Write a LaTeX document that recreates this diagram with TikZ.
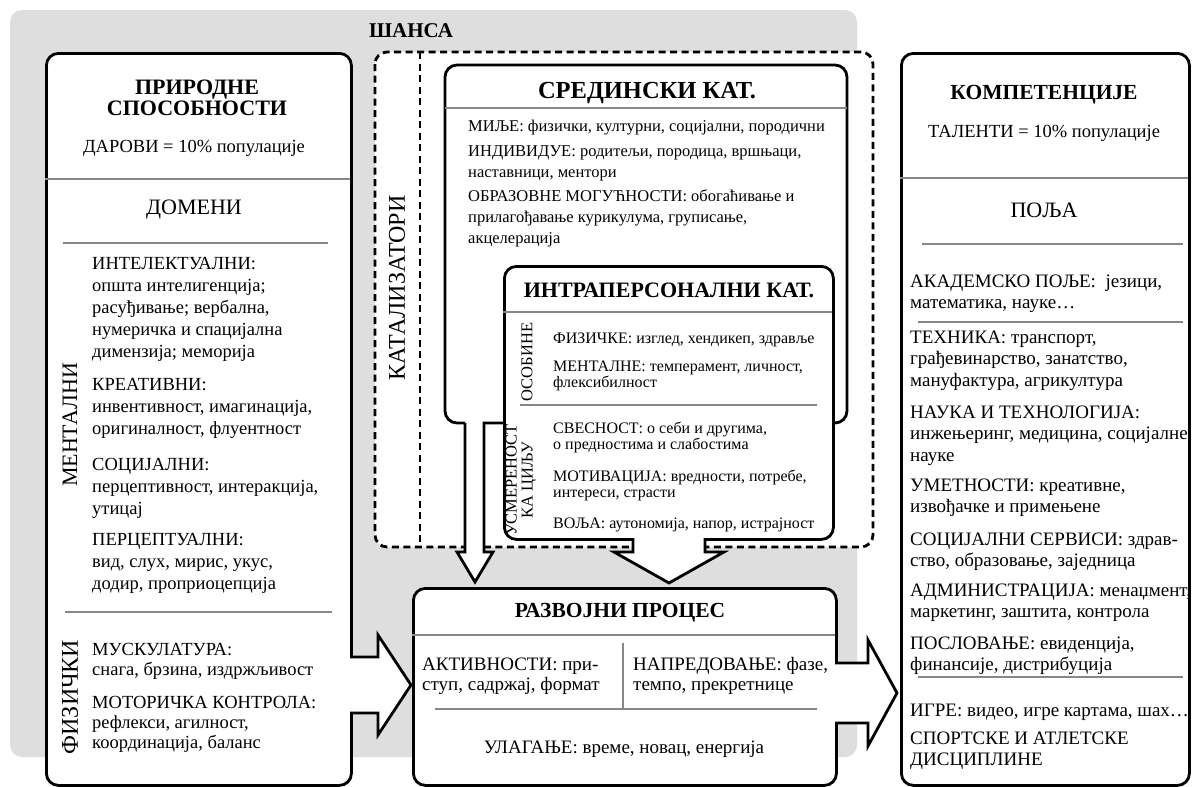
\documentclass[tikz,border=0pt]{standalone}
\usepackage{fontspec}
\setmainfont{Liberation Serif}
\begin{document}
\begin{tikzpicture}[x=1pt,y=-1pt]
\definecolor{bggray}{RGB}{222,222,222}
\definecolor{sepgray}{RGB}{135,135,135}
\tikzset{
  frame/.style={draw=black, line width=2.8pt, fill=white, rounded corners=12pt, inner sep=0pt},
  edge/.style={draw=black, line width=2.8pt, line join=miter},
  sep/.style={draw=sepgray, line width=1.3pt},
  dashline/.style={draw=black, line width=2.8pt, dash pattern=on 7pt off 4.5pt},
  body/.style={anchor=base west, inner sep=0pt, align=left, font=\fontsize{18.5}{22}\selectfont},
  bodyS/.style={anchor=base west, inner sep=0pt, align=left, font=\fontsize{16.5}{21}\selectfont},
  bodyI/.style={anchor=base west, inner sep=0pt, align=left, font=\fontsize{16}{16.5}\selectfont},
  bodyR/.style={anchor=base west, inner sep=0pt, align=left, font=\fontsize{19}{21.5}\selectfont},
  head/.style={inner sep=0pt, align=center, font=\fontsize{22}{21}\selectfont\bfseries},
  sub/.style={inner sep=0pt, align=center, font=\fontsize{22}{24}\selectfont},
  vlab/.style={inner sep=0pt, rotate=90, align=center, font=\fontsize{22}{24}\selectfont},
  vlabS/.style={inner sep=0pt, rotate=90, align=center, font=\fontsize{16.5}{16}\selectfont},
}
\useasboundingbox (0,0) rectangle (1192,787);

% chance background
\fill[bggray, rounded corners=12pt] (10,10) rectangle (857,757);
\node[inner sep=0pt, font=\fontsize{21}{24}\selectfont\bfseries] (chance) at (411,31) {ШАНСА};

% catalysts
\draw[dashline, fill=white, rounded corners=12pt] (375,52) rectangle (873,547);
\draw[dashline] (420,52) -- (420,547);
\node[vlab, font=\fontsize{24}{24}\selectfont] (catal) at (397,288) {КАТАЛИЗАТОРИ};

% environmental frame
\draw[edge, rounded corners=12pt] (465,423) -- (445,423) -- (445,65) -- (847,65) -- (847,423) -- (832,423);
\draw[sep] (445,108) -- (847,108);
\node[head, font=\fontsize{24.5}{21}\selectfont\bfseries] (envh) at (647,93) {СРЕДИНСКИ КАТ.};
\node[bodyS] (milieu) at (468,131) {МИЉЕ: физички, културни, социјални, породични};
\node[bodyS] (indiv) at (468,177) {ИНДИВИДУЕ: родитељи, породица, вршњаци,\\наставници, ментори};
\node[bodyS] (edu) at (468,243) {ОБРАЗОВНЕ МОГУЋНОСТИ: обогаћивање и\\прилагођавање курикулума, груписање,\\акцелерација};

% intrapersonal box
\node[frame, anchor=north west, minimum width=329pt, minimum height=273pt] (intra) at (503,265) {};
\draw[sep] (503,312) -- (832,312);
\draw[sep] (520,405) -- (817,405);
\node[head] (intrah) at (669,290) {ИНТРАПЕРСОНАЛНИ КАТ.};
\node[vlabS] (traits) at (527,362) {ОСОБИНЕ};
\node[vlabS] (goal) at (521,480) {УСМЕРЕНОСТ\\КА ЦИЉУ};
\node[bodyI] (phys) at (553,343) {ФИЗИЧКЕ: изглед, хендикеп, здравље};
\node[bodyI] (ment) at (553,387.5) {МЕНТАЛНЕ: темперамент, личност,\\флексибилност};
\node[bodyI] (aware) at (553,449.5) {СВЕСНОСТ: о себи и другима,\\о предностима и слабостима};
\node[bodyI] (motiv) at (553,497.5) {МОТИВАЦИЈА: вредности, потребе,\\интереси, страсти};
\node[bodyI] (will) at (553,528) {ВОЉА: аутономија, напор, истрајност};

% arrows from catalysts
\draw[edge, fill=white] (465,423) -- (465,552) -- (457,552) -- (475,582) -- (493,552) -- (484,552) -- (484,423) -- (503,423);
\fill[white] (633,536) -- (633,552) -- (614,552) -- (669,583) -- (724,552) -- (705,552) -- (705,536) -- cycle;
\draw[edge] (633,538) -- (633,552) -- (614,552) -- (669,583) -- (724,552) -- (705,552) -- (705,538);

% natural abilities
\node[frame, anchor=north west, minimum width=305pt, minimum height=732pt] (nat) at (45,52) {};
\fill[white] (347,657) -- (378,657) -- (378,635) -- (411,685) -- (378,735) -- (378,713) -- (347,713) -- cycle;
\draw[edge] (350,657) -- (378,657) -- (378,635) -- (411,685) -- (378,735) -- (378,713) -- (350,713);
\draw[sep] (45,179) -- (350,179);
\draw[sep] (63,243) -- (328,243);
\draw[sep] (65,612) -- (332,612);
\node[head] (nath) at (197,97.5) {ПРИРОДНЕ\\СПОСОБНОСТИ};
\node[inner sep=0pt, font=\fontsize{18.5}{22}\selectfont] (gifts) at (194,148) {ДАРОВИ = 10\% популације};
\node[sub] (domains) at (194,210) {ДОМЕНИ};
\node[vlab] (mental) at (70,425) {МЕНТАЛНИ};
\node[vlab, font=\fontsize{24}{24}\selectfont] (physical) at (70,697) {ФИЗИЧКИ};
\node[body] (intel) at (92,357) {ИНТЕЛЕКТУАЛНИ:\\општа интелигенција;\\расуђивање; вербална,\\нумеричка и спацијална\\димензија; меморија};
\node[body] (creat) at (92,434) {КРЕАТИВНИ:\\инвентивност, имагинација,\\оригиналност, флуентност};
\node[body] (social) at (92,514) {СОЦИЈАЛНИ:\\перцептивност, интеракција,\\утицај};
\node[body] (percep) at (92,589) {ПЕРЦЕПТУАЛНИ:\\вид, слух, мирис, укус,\\додир, проприоцепција};
\node[body, font=\fontsize{18.5}{20}\selectfont] (muscle) at (92,675) {МУСКУЛАТУРА:\\снага, брзина, издржљивост};
\node[body, font=\fontsize{18.5}{20}\selectfont] (motor) at (92,748) {МОТОРИЧКА КОНТРОЛА:\\рефлекси, агилност,\\координација, баланс};

% developmental process
\node[frame, anchor=north west, minimum width=423pt, minimum height=197pt] (proc) at (412,587) {};
\draw[sep] (412,635) -- (835,635);
\draw[sep] (623,643) -- (623,708);
\draw[sep] (435,709) -- (817,709);
\node[head, font=\fontsize{21.5}{21}\selectfont\bfseries] (proch) at (620,613) {РАЗВОЈНИ ПРОЦЕС};
\node[bodyR, font=\fontsize{19}{20}\selectfont] (activ) at (422,690) {АКТИВНОСТИ: при-\\ступ, садржај, формат};
\node[bodyR, font=\fontsize{19}{20}\selectfont] (progr) at (633,690) {НАПРЕДОВАЊЕ: фазе,\\темпо, прекретнице};
\node[inner sep=0pt, anchor=base, font=\fontsize{19}{20}\selectfont] (invest) at (624,753) {УЛАГАЊЕ: време, новац, енергија};
\fill[white] (832,663) -- (868,663) -- (868,640) -- (897,693) -- (868,746) -- (868,723) -- (832,723) -- cycle;
\draw[edge] (835,663) -- (868,663) -- (868,640) -- (897,693) -- (868,746) -- (868,723) -- (835,723);

% competencies
\node[frame, anchor=north west, minimum width=288pt, minimum height=732pt] (comp) at (900,52) {};
\draw[sep] (900,178) -- (1188,178);
\draw[sep] (922,244) -- (1183,244);
\draw[sep] (918,322) -- (1183,322);
\draw[sep] (918,677) -- (1183,677);
\node[head, font=\fontsize{21.5}{21}\selectfont\bfseries] (comph) at (1044,95) {КОМПЕТЕНЦИЈЕ};
\node[inner sep=0pt, font=\fontsize{18.5}{22}\selectfont] (talents) at (1044,133) {ТАЛЕНТИ = 10\% популације};
\node[sub] (fields) at (1044,210) {ПОЉА};
\node[bodyR] (acad) at (910,308.5) {АКАДЕМСКО ПОЉЕ: \ језици,\\математика, науке…};
\node[bodyR] (tech) at (910,386) {ТЕХНИКА: транспорт,\\грађевинарство, занатство,\\мануфактура, агрикултура};
\node[bodyR] (sci) at (910,461) {НАУКА И ТЕХНОЛОГИЈА:\\инжењеринг, медицина, социјалне\\науке};
\node[bodyR] (arts) at (910,512.5) {УМЕТНОСТИ: креативне,\\извођачке и примењене};
\node[bodyR] (socserv) at (910,566.5) {СОЦИЈАЛНИ СЕРВИСИ: здрав-\\ство, образовање, заједница};
\node[bodyR] (admin) at (910,617.5) {АДМИНИСТРАЦИЈА: менаџмент,\\маркетинг, заштита, контрола};
\node[bodyR] (busin) at (910,670.5) {ПОСЛОВАЊЕ: евиденција,\\финансије, дистрибуција};
\node[bodyR] (games) at (910,716) {ИГРЕ: видео, игре картама, шах…};
\node[bodyR] (sports) at (910,765.5) {СПОРТСКЕ И АТЛЕТСКЕ\\ДИСЦИПЛИНЕ};
\end{tikzpicture}
\end{document}
